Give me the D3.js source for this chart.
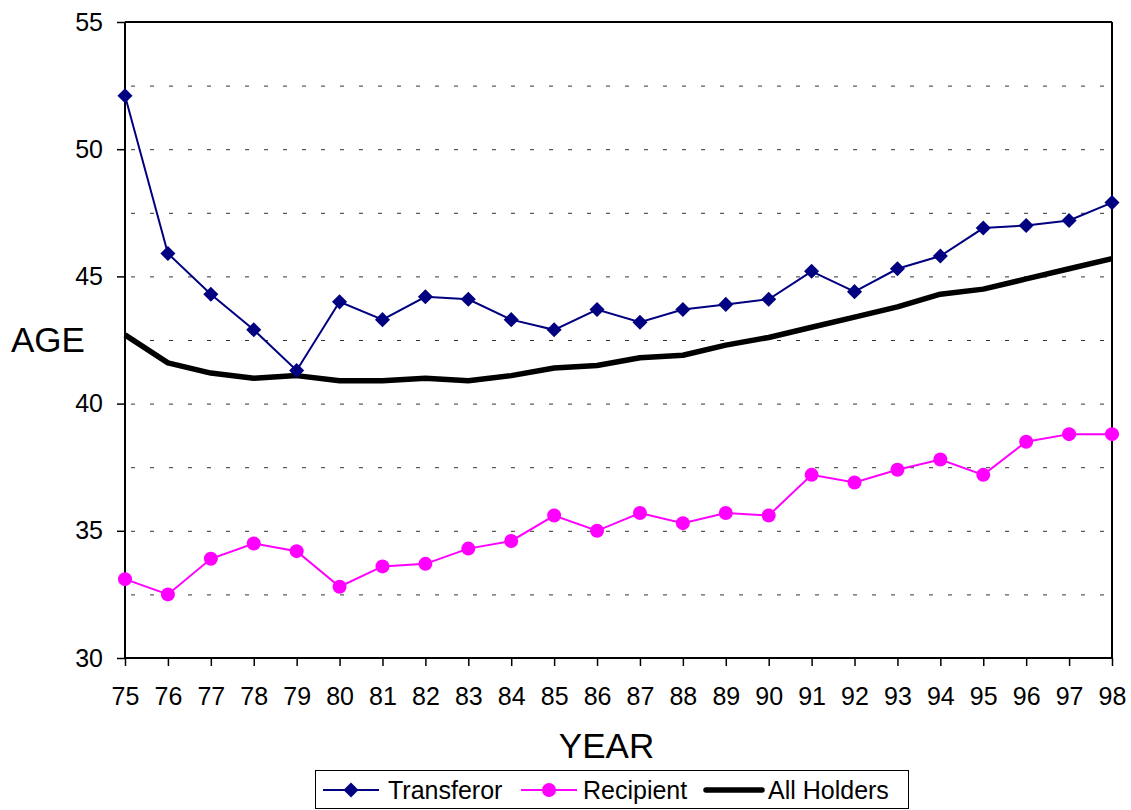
<!DOCTYPE html>
<html><head><meta charset="utf-8">
<script src="https://cdn.jsdelivr.net/npm/d3@7/dist/d3.min.js"></script>
<style>body{margin:0;background:#fff;}svg{display:block;font-family:"Liberation Sans",Arial,sans-serif;}</style>
</head><body>
<svg id="c" width="1131" height="810"></svg>
<script>
const years = ["75","76","77","78","79","80","81","82","83","84","85","86","87","88","89","90","91","92","93","94","95","96","97","98"];
const transferor = [52.1,45.9,44.3,42.9,41.3,44.0,43.3,44.2,44.1,43.3,42.9,43.7,43.2,43.7,43.9,44.1,45.2,44.4,45.3,45.8,46.9,47.0,47.2,47.9];
const recipient = [33.1,32.5,33.9,34.5,34.2,32.8,33.6,33.7,34.3,34.6,35.6,35.0,35.7,35.3,35.7,35.6,37.2,36.9,37.4,37.8,37.2,38.5,38.8,38.8];
const allHolders = [42.7,41.6,41.2,41.0,41.1,40.9,40.9,41.0,40.9,41.1,41.4,41.5,41.8,41.9,42.3,42.6,43.0,43.4,43.8,44.3,44.5,44.9,45.3,45.7];
const yTicks = [30,35,40,45,50,55];
const yGrid = [32.5,35,37.5,40,42.5,45,47.5,50,52.5];

const svg = d3.select("#c");
const L=125,R=1112,T=22,B=658;
const x = d3.scalePoint().domain(years).range([L,R]);
const y = d3.scaleLinear().domain([30,55]).range([B,T]);

// gridlines
svg.append("g").selectAll("line").data(yGrid).join("line")
  .attr("x1",L+6).attr("x2",R).attr("y1",d=>y(d)).attr("y2",d=>y(d))
  .attr("stroke","#333").attr("stroke-width",1).attr("stroke-dasharray","4,15")
  .attr("transform","translate(0,0.5)");

// frame top/right
svg.append("line").attr("x1",L).attr("x2",R).attr("y1",T).attr("y2",T).attr("stroke","#000").attr("stroke-width",2);
svg.append("line").attr("x1",R).attr("x2",R).attr("y1",T).attr("y2",B).attr("stroke","#000").attr("stroke-width",2);

// axes
const yAxis = d3.axisLeft(y).tickValues(yTicks).tickSize(8).tickPadding(14).tickFormat(d3.format("d"));
const gy = svg.append("g").attr("transform",`translate(${L},0)`).call(yAxis);
const xAxis = d3.axisBottom(x).tickSize(8).tickPadding(21);
const gx = svg.append("g").attr("transform",`translate(0,${B})`).call(xAxis);
[gy,gx].forEach(g=>{
  g.select(".domain").attr("stroke","#000").attr("stroke-width",2);
  g.selectAll(".tick line").attr("stroke","#000").attr("stroke-width",1.5);
  g.selectAll(".tick text").attr("fill","#000").attr("font-size",25).attr("font-family","Liberation Sans, Arial, sans-serif");
});
gx.select(".domain").attr("d",`M${L},0H${R}`);
gy.select(".domain").attr("d",`M0,${B}V${T}`);

// axis titles
svg.append("text").attr("x",11).attr("y",352).attr("font-size",35).text("AGE");
svg.append("text").attr("x",606.5).attr("y",758).attr("text-anchor","middle").attr("font-size",35).text("YEAR");

const line = d3.line().x((d,i)=>x(years[i])).y(d=>y(d));

svg.append("path").datum(allHolders).attr("d",line).attr("fill","none").attr("stroke","#000").attr("stroke-width",5.5).attr("stroke-linejoin","round");
svg.append("path").datum(transferor).attr("d",line).attr("fill","none").attr("stroke","#000080").attr("stroke-width",2);
svg.append("path").datum(recipient).attr("d",line).attr("fill","none").attr("stroke","#FF00FF").attr("stroke-width",2);

const diamond = d3.symbol().type(d3.symbolDiamond2).size(145);
svg.append("g").selectAll("path").data(transferor).join("path")
  .attr("d",diamond).attr("transform",(d,i)=>`translate(${x(years[i])},${y(d)})`).attr("fill","#000080");
svg.append("g").selectAll("circle").data(recipient).join("circle")
  .attr("cx",(d,i)=>x(years[i])).attr("cy",d=>y(d)).attr("r",7).attr("fill","#FF00FF");

// legend
const lg = svg.append("g");
lg.append("rect").attr("x",315.5).attr("y",770.5).attr("width",593).attr("height",38).attr("fill","#fff").attr("stroke","#000").attr("stroke-width",1);
const items = [
  {name:"Transferor", color:"#000080", w:2, sym:"d", x0:323, tx:388},
  {name:"Recipient", color:"#FF00FF", w:2, sym:"c", x0:521, tx:583},
  {name:"All Holders", color:"#000", w:5.5, sym:null, x0:706, tx:768}
];
const ly = 790;
items.forEach(it=>{
  lg.append("line").attr("x1",it.x0).attr("x2",it.x0+56).attr("y1",ly).attr("y2",ly).attr("stroke",it.color).attr("stroke-width",it.w).attr("stroke-linecap",it.sym?"butt":"round");
  if(it.sym==="d") lg.append("path").attr("d",diamond).attr("transform",`translate(${it.x0+28},${ly})`).attr("fill",it.color);
  if(it.sym==="c") lg.append("circle").attr("cx",it.x0+28).attr("cy",ly).attr("r",7).attr("fill",it.color);
  lg.append("text").attr("x",it.tx).attr("y",799).attr("font-size",25).text(it.name);
});
</script>
</body></html>
